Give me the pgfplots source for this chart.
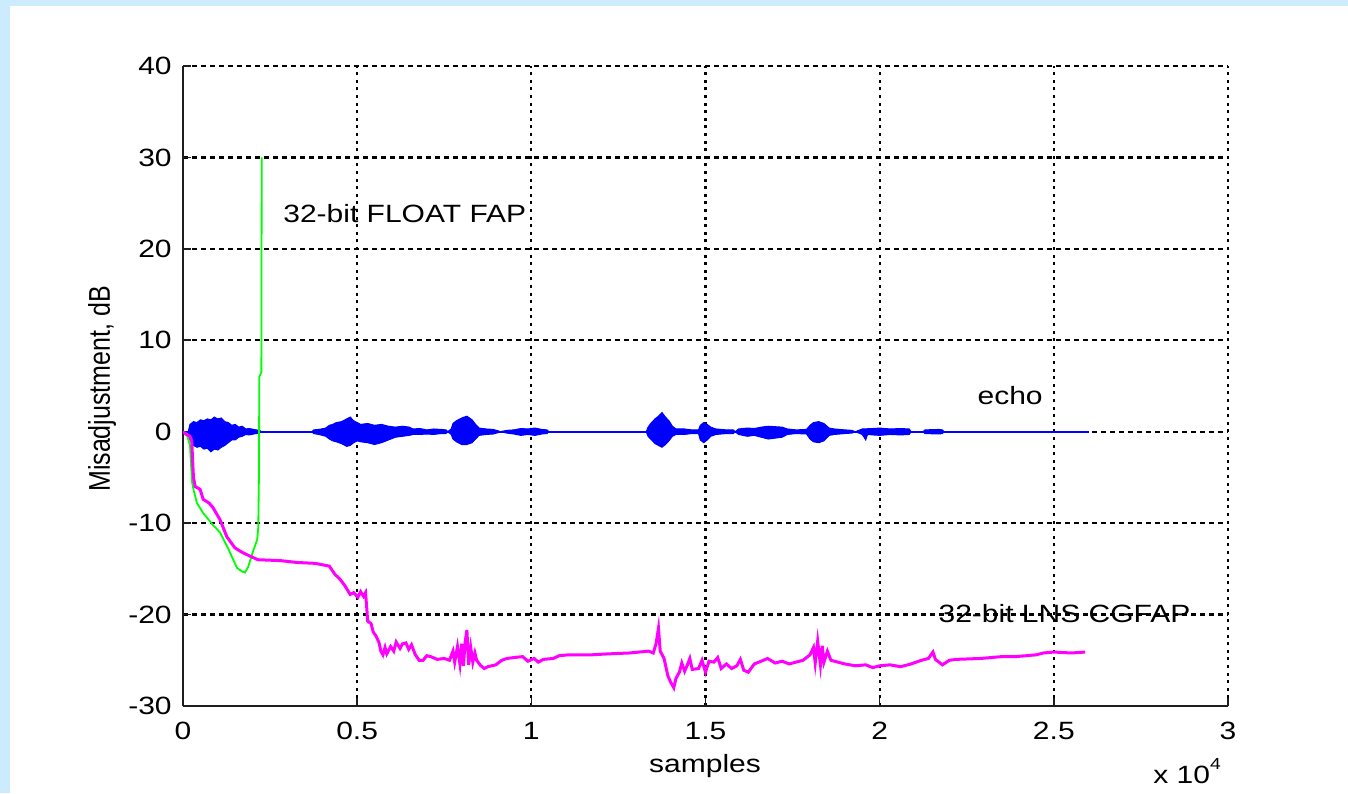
\documentclass[border=0pt]{standalone}
\usepackage{fontspec}
\setmainfont{Liberation Sans}[FakeStretch=1.2]
\newfontfamily\plainfont{Liberation Sans}
\usepackage{pgfplots}
\pgfplotsset{compat=1.18}
\definecolor{bgblue}{RGB}{204,235,255}
\definecolor{axgray}{RGB}{30,30,30}
\definecolor{mgreen}{RGB}{0,255,0}
\definecolor{mmag}{RGB}{255,0,255}
\definecolor{mblue}{RGB}{0,0,255}
\begin{document}
\fontsize{12.5pt}{15pt}\selectfont
\begin{tikzpicture}
\fill[bgblue] (-91.5pt,-43.5pt) rectangle (582.5pt,353pt);
\fill[white] (-86.5pt,-43.5pt) rectangle (582.5pt,350pt);
\begin{axis}[
  at={(0pt,0pt)}, anchor=south west,
  width=522.5pt, height=320pt, scale only axis,
  xmin=0, xmax=3, ymin=-30, ymax=40,
  axis lines=left, axis line style={-, axgray, line width=1pt},
  xtick={0,0.5,1,1.5,2,2.5,3}, xticklabels={0,0.5,1,1.5,2,2.5,3},
  ytick={-30,-20,-10,0,10,20,30,40},
  yticklabels={-30,-20,-10,0,10,20,30,40},
  grid=major,
  x grid style={black, line width=1.1pt, dash pattern=on 1.5pt off 2.3pt},
  y grid style={black, line width=1.1pt, dash pattern=on 2.5pt off 2pt},
  tick align=inside, major tick length=4pt, tick style={axgray, line width=0.8pt},
  xticklabel style={yshift=-3.8pt},
  yticklabel style={xshift=-1.3pt},
]
% echo: zero line and burst envelopes
\addplot[mblue, line width=0.8pt] coordinates {(0,0) (2.6,0)};
\addplot[mblue, fill=mblue, line width=0.5pt] coordinates {
 (0.015,0) (0.02,0.8) (0.03,1.1) (0.04,1.0) (0.05,1.3) (0.06,1.2) (0.07,1.4) (0.08,1.3) (0.09,1.6) (0.10,1.4) (0.11,1.5) (0.12,1.1) (0.13,1.0) (0.14,0.7) (0.15,0.8) (0.16,0.5) (0.17,0.6) (0.18,0.3) (0.19,0.35) (0.21,0.2) (0.22,0.15) (0.225,0)
 (0.22,-0.15) (0.21,-0.2) (0.19,-0.35) (0.18,-0.3) (0.17,-0.5) (0.16,-0.6) (0.15,-0.9) (0.14,-0.9) (0.13,-1.2) (0.12,-1.5) (0.11,-1.7) (0.10,-2.0) (0.09,-1.9) (0.08,-2.2) (0.07,-1.8) (0.06,-1.9) (0.05,-1.6) (0.04,-1.7) (0.03,-1.5) (0.02,-0.9)
} -- cycle;
\addplot[mblue, fill=mblue, line width=0.5pt] coordinates {
 (0.37,0) (0.375,0.2) (0.39,0.25) (0.41,0.4) (0.42,0.7) (0.43,0.8) (0.44,1.0) (0.455,1.1) (0.47,1.4) (0.48,1.6) (0.49,1.2) (0.50,1.0) (0.51,0.8) (0.53,0.9) (0.55,0.7) (0.57,0.8) (0.59,0.6) (0.61,0.5) (0.63,0.6) (0.65,0.5) (0.66,0.3) (0.68,0.35) (0.70,0.2) (0.72,0.3) (0.74,0.25) (0.755,0.2) (0.76,0)
 (0.755,-0.2) (0.74,-0.2) (0.72,-0.3) (0.70,-0.25) (0.68,-0.3) (0.66,-0.3) (0.65,-0.4) (0.63,-0.5) (0.61,-0.6) (0.59,-0.9) (0.57,-1.2) (0.55,-1.4) (0.53,-1.2) (0.51,-1.1) (0.50,-1.0) (0.49,-1.2) (0.48,-1.5) (0.47,-1.6) (0.455,-1.3) (0.44,-1.1) (0.43,-1.0) (0.42,-0.8) (0.41,-0.5) (0.39,-0.3) (0.375,-0.2)
} -- cycle;
\addplot[mblue, fill=mblue, line width=0.5pt] coordinates {
 (0.76,0) (0.77,0.3) (0.775,0.9) (0.785,1.2) (0.80,1.5) (0.815,1.7) (0.83,1.3) (0.84,0.8) (0.85,0.4) (0.87,0.3) (0.89,0.25) (0.905,0.1) (0.91,0)
 (0.905,-0.1) (0.89,-0.25) (0.87,-0.3) (0.85,-0.4) (0.84,-0.8) (0.83,-1.2) (0.815,-1.4) (0.80,-1.4) (0.785,-1.1) (0.775,-0.8) (0.77,-0.3)
} -- cycle;
\addplot[mblue, fill=mblue, line width=0.5pt] coordinates {
 (0.91,0) (0.93,0.15) (0.95,0.2) (0.97,0.35) (0.99,0.3) (1.01,0.4) (1.03,0.25) (1.045,0.2) (1.05,0)
 (1.045,-0.2) (1.03,-0.25) (1.01,-0.4) (0.99,-0.3) (0.97,-0.4) (0.95,-0.25) (0.93,-0.15)
} -- cycle;
\addplot[mblue, fill=mblue, line width=0.5pt] coordinates {
 (1.33,0) (1.335,0.5) (1.345,1.0) (1.355,1.4) (1.365,1.7) (1.375,2.1) (1.385,1.6) (1.395,1.2) (1.405,0.6) (1.415,0.3) (1.44,0.3) (1.46,0.2) (1.48,0.2) (1.485,0.7) (1.495,1.0) (1.505,0.8) (1.515,0.5) (1.53,0.3) (1.56,0.2) (1.58,0.2) (1.585,0)
 (1.58,-0.2) (1.56,-0.2) (1.53,-0.3) (1.515,-0.5) (1.505,-0.9) (1.495,-1.2) (1.485,-0.9) (1.48,-0.2) (1.46,-0.2) (1.44,-0.3) (1.415,-0.3) (1.405,-0.5) (1.395,-1.0) (1.385,-1.4) (1.375,-1.7) (1.365,-1.5) (1.355,-1.3) (1.345,-0.9) (1.335,-0.5)
} -- cycle;
\addplot[mblue, fill=mblue, line width=0.5pt] coordinates {
 (1.585,0) (1.595,0.3) (1.62,0.4) (1.64,0.35) (1.66,0.5) (1.68,0.6) (1.70,0.55) (1.72,0.5) (1.735,0.3) (1.76,0.2) (1.79,0.25) (1.80,0.7) (1.81,1.0) (1.825,1.1) (1.84,0.9) (1.855,0.4) (1.87,0.3) (1.9,0.2) (1.92,0.15) (1.93,0)
 (1.92,-0.15) (1.9,-0.2) (1.87,-0.3) (1.855,-0.4) (1.84,-1.0) (1.825,-1.2) (1.81,-1.1) (1.80,-0.8) (1.79,-0.25) (1.76,-0.2) (1.735,-0.3) (1.72,-0.6) (1.70,-0.7) (1.68,-0.8) (1.66,-0.6) (1.64,-0.4) (1.62,-0.5) (1.595,-0.3)
} -- cycle;
\addplot[mblue, fill=mblue, line width=0.5pt] coordinates {
 (1.93,0) (1.95,0.3) (1.98,0.35) (2.0,0.4) (2.03,0.3) (2.06,0.35) (2.085,0.3) (2.09,0)
 (2.085,-0.3) (2.06,-0.35) (2.03,-0.3) (2.0,-0.4) (1.98,-0.35) (1.965,-0.3) (1.96,-0.9) (1.95,-0.3)
} -- cycle;
\addplot[mblue, fill=mblue, line width=0.5pt] coordinates {
 (2.125,0) (2.13,0.2) (2.17,0.25) (2.18,0.2) (2.185,0) (2.18,-0.2) (2.17,-0.25) (2.13,-0.2)
} -- cycle;
% 32-bit FLOAT FAP
\addplot[mgreen, line width=0.9pt] coordinates {
 (0,0) (0.01,-0.2) (0.02,-1.5) (0.026,-5.5) (0.03,-6.3) (0.04,-7.8) (0.058,-8.9) (0.086,-10.2) (0.106,-11.0) (0.13,-12.8) (0.155,-14.9) (0.17,-15.3) (0.178,-15.4) (0.187,-14.8) (0.20,-13.2) (0.213,-11.8) (0.216,-10.5) (0.218,-5) (0.219,6) (0.225,6.5) (0.226,30)
};
% 32-bit LNS CGFAP
\addplot[mmag, line width=1.5pt] coordinates {
 (0,0) (0.01,-0.3) (0.02,-0.5) (0.025,-1) (0.03,-5.0) (0.035,-6.0) (0.049,-6.3) (0.058,-7.4) (0.075,-7.8) (0.086,-8.3) (0.106,-9.6) (0.126,-11.5) (0.149,-12.7) (0.17,-13.2) (0.192,-13.6) (0.215,-14.0) (0.28,-14.1) (0.327,-14.3) (0.38,-14.4) (0.42,-14.7) (0.436,-15.6) (0.45,-16.1) (0.464,-16.8) (0.48,-17.8) (0.49,-17.6) (0.502,-18.1) (0.51,-17.5) (0.518,-18.0) (0.524,-17.6) (0.528,-19.5) (0.53,-20.7) (0.54,-21.0) (0.546,-21.9) (0.555,-22.4) (0.563,-23.1) (0.568,-24.0) (0.574,-24.4) (0.58,-23.6) (0.585,-24.3) (0.596,-23.5) (0.605,-24.0) (0.612,-23.0) (0.623,-23.7) (0.63,-23.2) (0.64,-23.1) (0.648,-23.8) (0.656,-23.3) (0.667,-24.4) (0.678,-25.0) (0.689,-25.0) (0.70,-24.5) (0.711,-24.6) (0.73,-24.9) (0.75,-24.8) (0.765,-25.0) (0.775,-24.0) (0.78,-25.2) (0.788,-23.5) (0.795,-25.4) (0.80,-23.2) (0.805,-25.6) (0.81,-23.0) (0.815,-21.7) (0.82,-25.5) (0.826,-23.6) (0.832,-25.2) (0.838,-24.2) (0.843,-25.0) (0.855,-25.6) (0.865,-25.9) (0.875,-25.7) (0.898,-25.5) (0.915,-25.0) (0.93,-24.8) (0.95,-24.7) (0.975,-24.6) (0.99,-25.1) (1.008,-24.8) (1.02,-25.2) (1.035,-24.9) (1.063,-24.8) (1.08,-24.5) (1.107,-24.4) (1.14,-24.4) (1.173,-24.4) (1.22,-24.3) (1.282,-24.2) (1.337,-24.0) (1.35,-24.2) (1.358,-23.2) (1.365,-21.5) (1.37,-24.0) (1.381,-24.8) (1.392,-26.7) (1.40,-27.4) (1.409,-28.0) (1.415,-27.0) (1.425,-26.3) (1.432,-25.3) (1.44,-26.2) (1.447,-25.6) (1.455,-24.8) (1.462,-26.0) (1.48,-25.9) (1.49,-25.0) (1.50,-26.3) (1.51,-25.1) (1.524,-25.2) (1.535,-24.7) (1.545,-25.9) (1.56,-25.4) (1.575,-25.9) (1.59,-25.6) (1.60,-24.9) (1.61,-26.1) (1.623,-26.3) (1.64,-25.4) (1.66,-25.1) (1.678,-24.8) (1.70,-25.3) (1.72,-25.1) (1.74,-25.4) (1.76,-25.2) (1.78,-25.0) (1.80,-24.4) (1.81,-23.6) (1.815,-25.3) (1.822,-22.9) (1.83,-25.5) (1.835,-23.4) (1.84,-25.2) (1.85,-24.0) (1.86,-25.0) (1.88,-25.2) (1.90,-25.4) (1.93,-25.6) (1.96,-25.5) (1.98,-25.8) (2.0,-25.6) (2.03,-25.5) (2.06,-25.7) (2.09,-25.4) (2.12,-25.0) (2.14,-24.8) (2.153,-24.1) (2.16,-24.9) (2.18,-25.5) (2.2,-25.0) (2.22,-24.9) (2.29,-24.8) (2.35,-24.6) (2.39,-24.6) (2.42,-24.5) (2.45,-24.4) (2.47,-24.2) (2.50,-24.1) (2.55,-24.2) (2.59,-24.1)
};
\node[anchor=base west, inner sep=0pt] at (axis cs:0.287,22.9) {32-bit FLOAT FAP};
\node[anchor=base west, inner sep=0pt] at (axis cs:2.28,2.95) {echo};
\node[anchor=base west, inner sep=0pt] at (axis cs:2.168,-20.9) {32-bit LNS CGFAP};
\end{axis}
\node[anchor=base] at (261pt,-33pt) {samples};
\node[rotate=90, anchor=base, inner sep=0pt] at (-36.5pt,158.5pt) {\plainfont\scalebox{1}[1.2]{Misadjustment, dB}};
\node[anchor=base west, inner sep=0pt] at (485pt,-38.5pt) {x 10\raisebox{7pt}{\fontsize{8pt}{9pt}\selectfont 4}};
\pgfresetboundingbox
\useasboundingbox (-91.5pt,-43.5pt) rectangle (582.5pt,353pt);
\end{tikzpicture}
\end{document}
